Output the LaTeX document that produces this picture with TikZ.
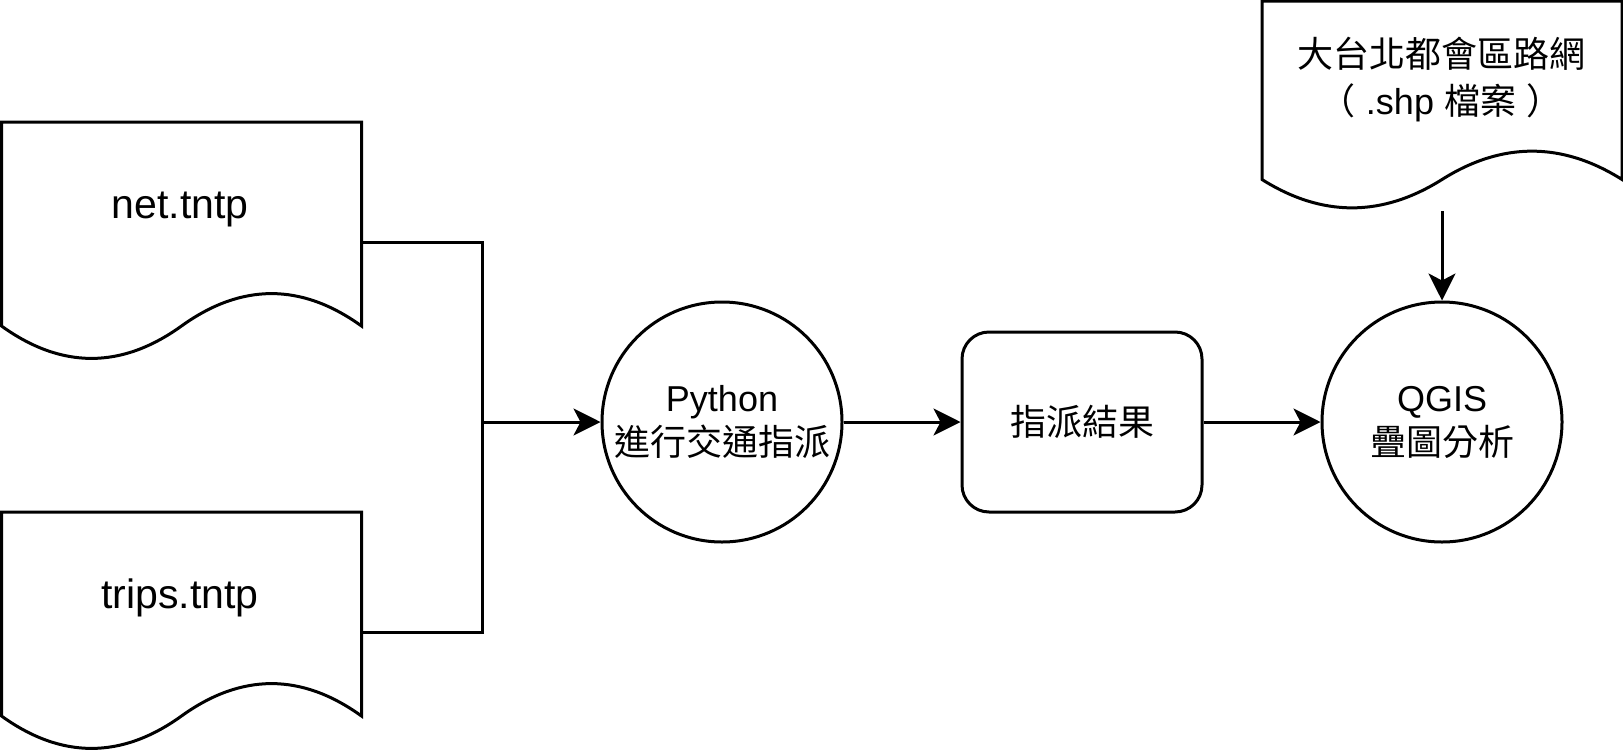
\documentclass[tikz,border=0pt]{standalone}
\usepackage{fontspec}
\setmainfont{Liberation Sans}
\newfontfamily\cjk{Noto Sans CJK TC}
\usepackage{tikz}
\usetikzlibrary{arrows.meta,calc}
\tikzset{
  flow-doc/.style={minimum width=360pt, inner sep=0pt, outer sep=0pt},
  flow-step/.style={draw=black, circle, line width=3pt, minimum size=240pt, inner sep=0pt,
    align=center, font=\fontsize{36}{44}\selectfont},
  flow-result/.style={draw=black, rounded corners=27pt, line width=3pt, minimum width=240pt,
    minimum height=180pt, align=center, font=\fontsize{36}{44}\selectfont},
  flow-label/.style={align=center, inner sep=0pt},
  flow-line/.style={line width=3pt},
  flow-link/.style={line width=3pt, -{Stealth[length=27pt, width=27pt, inset=7pt]}}
}
% outline of a document node with a wavy bottom
\newcommand{\docoutline}[1]{%
  \draw[flow-line] let \p1=(#1.north west), \p2=(#1.south east),
      \n1={\x2-\x1}, \n2={\y1-\y2} in
    (\x1,\y1) -- (\x2,\y1) -- (\x2,{\y2+0.15*\n2})
    .. controls ({\x1+0.8333*\n1},{\y2+0.33*\n2}) and ({\x1+0.6667*\n1},{\y2+0.33*\n2}) ..
    ({\x1+0.5*\n1},{\y2+0.15*\n2})
    .. controls ({\x1+0.3333*\n1},{\y2-0.03*\n2}) and ({\x1+0.1667*\n1},{\y2-0.03*\n2}) ..
    (\x1,{\y2+0.15*\n2}) -- cycle;}

\begin{document}
\begin{tikzpicture}[x=1pt, y=-1pt]
  \useasboundingbox (0,0) rectangle (1623,753);

  % Input files
  \node[flow-doc, minimum height=240pt] (net) at (181.5,242) {};
  \docoutline{net}
  \node[flow-label, font=\fontsize{41}{48}\selectfont, anchor=base] (net-text) at (180,218) {net.tntp};

  \node[flow-doc, minimum height=240pt] (trips) at (181.5,632) {};
  \docoutline{trips}
  \node[flow-label, font=\fontsize{41}{48}\selectfont, anchor=base] (trips-text) at (180,608) {trips.tntp};

  \node[flow-doc, minimum height=210pt] (roads) at (1442,106) {};
  \docoutline{roads}
  \node[flow-label, font=\fontsize{36}{47}\selectfont] (roads-text) at (1441,80)
    {{\cjk 大台北都會區路網}\\{\cjk （} .shp {\cjk 檔案} {\cjk ）}};

  % Processing steps
  \node[flow-step] (python) at (722,422) {Python\\{\cjk 進行交通指派}};
  \node[flow-result] (result) at (1082,422) {\cjk 指派結果};
  \node[flow-step] (qgis) at (1442,422) {QGIS\\{\cjk 疊圖分析}};

  % Connectors
  \coordinate (merge) at (482,422);
  \draw[flow-line] (net.east) -| (merge);
  \draw[flow-line] (trips.east) -| (merge);
  \draw[flow-link] (merge) -- (python);
  \draw[flow-link] (python) -- (result);
  \draw[flow-link] (result) -- (qgis);
  \draw[flow-link] (roads.south) -- (qgis.north);
\end{tikzpicture}
\end{document}
